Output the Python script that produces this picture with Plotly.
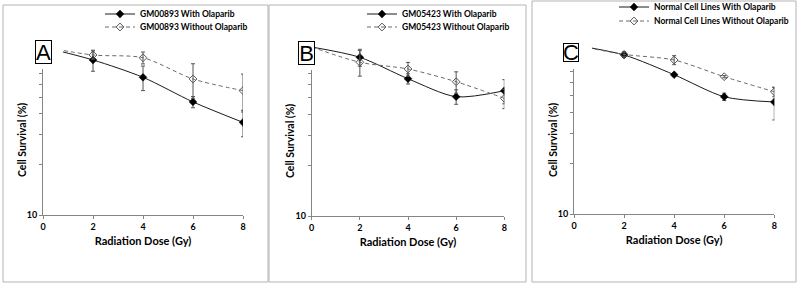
import plotly.graph_objects as go

# ---------------- data ----------------
dose = [0, 2, 4, 6, 8]
x_ticks = [0, 2, 4, 6, 8]

a_with = [100, 83.7, 66.0, 47.1, 35.6]
a_with_err = [0, 12, 11, 3.6, 6.4]
a_without = [100, 89.6, 86.3, 64.5, 55.0]
a_without_err = [0, 5, 7, 15, 14]

b_with = [100, 86.9, 64.9, 50.8, 55.1]
b_with_err = [0, 10, 4.5, 5, 9]
b_without = [100, 81.2, 74.1, 62.3, 49.7]
b_without_err = [0, 14, 7, 9, 6.5]

c_with = [100, 87.3, 66.7, 49.4, 46.0]
c_with_err = [0, 3, 1.5, 2.5, 10]
c_without = [100, 88.0, 81.5, 64.9, 52.9]
c_without_err = [0, 3, 5, 1, 3.5]

names = [
    ("GM00893 With Olaparib", "GM00893 Without Olaparib"),
    ("GM05423 With Olaparib", "GM05423 Without Olaparib"),
    ("Normal Cell Lines With Olaparib", "Normal Cell Lines Without Olaparib"),
]
panel_letters = ["A", "B", "C"]
y_tick_vals = [10]
y_tick_text = ["10"]
y_minor_vals = [20, 30, 40, 50, 60, 70, 80, 90]

W, H = 801, 289
FONT = "Lato"

series = [
    (a_with, a_with_err, a_without, a_without_err),
    (b_with, b_with_err, b_without, b_without_err),
    (c_with, c_with_err, c_without, c_without_err),
]

# layout geometry (pixels)
x_dom_px = [(43, 243), (311.7, 504.3), (574, 774.3)]
y_dom_px = [(47, 215), (47, 216), (45, 214)]   # top, bottom
frames = [(3, 5, 268, 282), (269, 5, 526, 282), (532, 1, 796, 282)]
letter_box = [(35, 40, 52, 64), (298, 41, 315, 65), (563, 43, 579, 62)]
cover = [(28, 36, 63, 69), (292, 36, 315, 70), (556, 38, 592, 69)]
legend_x_px = [100, 362, 614]
legend_rows_px = [(14, 27), (14, 27), (7, 21)]
title_y_px = [140, 141, 140]
ytitle_x_px = [22, 290, 553]


def fx(px):
    return px / W


def fy(py):
    return 1 - py / H


fig = go.Figure()
shapes = []
annotations = []
layout_upd = {}

for i in range(3):
    xa = "x" if i == 0 else f"x{i+1}"
    ya = "y" if i == 0 else f"y{i+1}"
    lg_w = "legend" if i == 0 else f"legend{2*i+1}"
    lg_wo = f"legend{2*i+2}"
    w, we, wo, woe = series[i]
    fig.add_trace(go.Scatter(
        x=dose, y=w, name=names[i][0], xaxis=xa, yaxis=ya, legend=lg_w,
        mode="lines+markers", line=dict(color="#1a1a1a", width=1, shape="spline", smoothing=0.8),
        marker=dict(symbol="diamond", size=6, color="black", line=dict(color="black", width=0.5)),
        error_y=dict(type="data", array=we, color="#555555", thickness=1, width=2),
    ))
    fig.add_trace(go.Scatter(
        x=dose, y=wo, name=names[i][1], xaxis=xa, yaxis=ya, legend=lg_wo,
        mode="lines+markers", line=dict(color="#6a6a6a", width=1, dash="4px,3px", shape="spline", smoothing=0.8),
        marker=dict(symbol="diamond-open", size=6, color="#555555", line=dict(width=1)),
        error_y=dict(type="data", array=woe, color="#555555", thickness=1, width=2),
    ))

    xkey = "xaxis" if i == 0 else f"xaxis{i+1}"
    ykey = "yaxis" if i == 0 else f"yaxis{i+1}"
    x0, x1 = x_dom_px[i]
    yt, yb = y_dom_px[i]
    layout_upd[xkey] = dict(domain=[fx(x0), fx(x1)], range=[0, 8], anchor=ya, automargin=False,
                            tickvals=x_ticks, ticktext=[str(t) for t in x_ticks],
                            showline=True, linecolor="#858585", linewidth=1,
                            ticks="outside", ticklen=3, tickcolor="#858585",
                            showgrid=False, zeroline=False,
                            tickfont=dict(family=FONT, size=9, color="black", weight="bold"),
                            title=dict(text="Radiation Dose (Gy)", standoff=6,
                                       font=dict(family=FONT, size=11, color="black", weight="bold")))
    layout_upd[ykey] = dict(domain=[fy(yb), fy(yt)], type="log", range=[1, 2], anchor=xa, automargin=False,
                            tickvals=y_tick_vals, ticktext=y_tick_text,
                            showline=True, linecolor="#858585", linewidth=1,
                            ticks="outside", ticklen=3, tickcolor="#858585",
                            minor=dict(tickvals=y_minor_vals, ticks="outside", ticklen=3, tickcolor="#858585"),
                            showgrid=False, zeroline=False,
                            tickfont=dict(family=FONT, size=9, color="black", weight="bold"))
    for lg, row in ((lg_w, legend_rows_px[i][0]), (lg_wo, legend_rows_px[i][1])):
        layout_upd[lg] = dict(x=fx(legend_x_px[i]), y=fy(row), xanchor="left", yanchor="middle",
                              bgcolor="rgba(0,0,0,0)", borderwidth=0,
                              font=dict(family=FONT, size=8.5, color="black", weight="bold"),
                              itemwidth=30)

    # panel frame
    l, t, r, b = frames[i]
    shapes.append(dict(type="rect", xref="paper", yref="paper", x0=fx(l), x1=fx(r), y0=fy(b), y1=fy(t),
                       line=dict(color="#b4b4b4", width=1), fillcolor="rgba(0,0,0,0)", layer="below"))
    # white cover (text box background)
    l, t, r, b = cover[i]
    shapes.append(dict(type="rect", xref="paper", yref="paper", x0=fx(l), x1=fx(r), y0=fy(b), y1=fy(t),
                       line=dict(width=0), fillcolor="white", layer="above"))
    # letter box
    l, t, r, b = letter_box[i]
    annotations.append(dict(xref="paper", yref="paper", x=fx((l + r) / 2), y=fy((t + b) / 2),
                            xanchor="center", yanchor="middle", text=panel_letters[i], showarrow=False,
                            width=r - l - 2, height=b - t - 2, borderpad=0, borderwidth=1,
                            bordercolor="black", bgcolor="white",
                            font=dict(family="Liberation Sans", size=22, color="black")))
    # y title
    annotations.append(dict(xref="paper", yref="paper", x=fx(ytitle_x_px[i]), y=fy(title_y_px[i]),
                            xanchor="center", yanchor="middle", text="Cell Survival (%)", textangle=-90,
                            showarrow=False,
                            font=dict(family=FONT, size=10.5, color="black", weight="bold")))

fig.update_layout(**layout_upd)
fig.update_layout(width=W, height=H, margin=dict(l=0, r=0, t=0, b=0, autoexpand=False),
                  paper_bgcolor="white", plot_bgcolor="rgba(0,0,0,0)",
                  showlegend=True, shapes=shapes, annotations=annotations)

fig.write_html("out.html", config={"displayModeBar": False},
               post_script="document.body.style.margin='0';document.body.style.overflow='hidden';")
